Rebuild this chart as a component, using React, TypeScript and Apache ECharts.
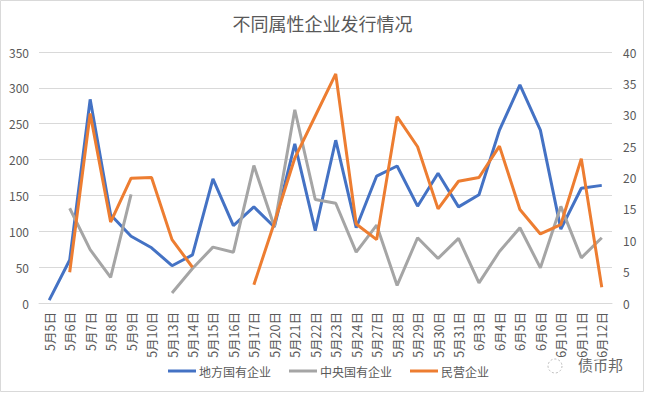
import React, { useEffect, useRef } from "react";
import * as echarts from "echarts";

const categories = [
  "5月5日", "5月6日", "5月7日", "5月8日", "5月9日", "5月10日", "5月13日", "5月14日",
  "5月15日", "5月16日", "5月17日", "5月20日", "5月21日", "5月22日", "5月23日", "5月24日",
  "5月27日", "5月28日", "5月29日", "5月30日", "5月31日", "6月3日", "6月4日", "6月5日",
  "6月6日", "6月10日", "6月11日", "6月12日",
];

const localSOE = [
  4, 60, 284, 123, 93, 77, 52, 67, 173, 108, 134, 106, 222, 101, 227, 105,
  177, 191, 135, 181, 134, 151, 241, 304, 241, 103, 160, 164,
];

const centralSOE = [
  null, 15.1, 8.5, 4.1, 17.3, null, 1.6, 5.5, 8.9, 8.1, 21.9, 12.2, 30.8, 16.5, 15.9, 8.1,
  12.4, 2.8, 10.4, 7.1, 10.3, 3.2, 8.2, 12.0, 5.6, 15.4, 7.2, 10.4,
];

const privateEnt = [
  null, 4.9, 30.2, 12.9, 19.9, 20.0, 10.1, 5.7, null, null, 2.9, 12.8, 23.1, 29.8, 36.5, 12.6,
  10.1, 29.7, 24.9, 15.0, 19.4, 20.0, 25.0, 14.9, 11.0, 12.5, 23.0, 2.5,
];

const seriesNames = ["地方国有企业", "中央国有企业", "民营企业"];
const colors = ["#4472C4", "#A5A5A5", "#ED7D31"];

export default function App() {
  const ref = useRef<HTMLDivElement>(null);
  useEffect(() => {
    document.body.style.margin = "0";
    const chart = echarts.init(ref.current!, null, { renderer: "svg" });
    const labelStyle = { color: "#595959", fontSize: 12, fontFamily: "Noto Sans CJK SC" };
    chart.setOption({
      animation: false,
      backgroundColor: "#fff",
      color: colors,
      title: {
        text: "不同属性企业发行情况",
        left: "center",
        top: 9,
        textStyle: { color: "#595959", fontSize: 18, fontWeight: "normal", fontFamily: "Noto Sans CJK SC" },
      },
      legend: {
        data: seriesNames,
        bottom: 11,
        left: 163,
        itemWidth: 28,
        itemHeight: 3,
        itemGap: 18,
        icon: "rect",
        textStyle: { color: "#595959", fontSize: 12, fontFamily: "Noto Sans CJK SC", padding: [0, 0, 0, -2] },
      },
      grid: { left: 39, right: 33, top: 52, bottom: 90 },
      xAxis: {
        type: "category",
        data: categories,
        boundaryGap: true,
        axisLine: { lineStyle: { color: "#D9D9D9" } },
        axisTick: { show: false },
        axisLabel: { ...labelStyle, fontSize: 12.5, rotate: 90, interval: 0, margin: 9 },
      },
      yAxis: [
        {
          type: "value",
          min: 0,
          max: 350,
          interval: 50,
          axisLine: { show: false },
          axisTick: { show: false },
          splitLine: { lineStyle: { color: "#D9D9D9" } },
          axisLabel: { ...labelStyle, margin: 10 },
        },
        {
          type: "value",
          min: 0,
          max: 40,
          interval: 5,
          axisLine: { show: false },
          axisTick: { show: false },
          splitLine: { show: false },
          axisLabel: { ...labelStyle, margin: 11 },
        },
      ],
      series: [
        {
          name: seriesNames[0], type: "line", yAxisIndex: 0, data: localSOE,
          showSymbol: false, symbol: "none", lineStyle: { width: 3, color: colors[0] },
        },
        {
          name: seriesNames[1], type: "line", yAxisIndex: 1, data: centralSOE,
          showSymbol: false, symbol: "none", connectNulls: false, lineStyle: { width: 3, color: colors[1] },
        },
        {
          name: seriesNames[2], type: "line", yAxisIndex: 1, data: privateEnt,
          showSymbol: false, symbol: "none", connectNulls: false, lineStyle: { width: 3, color: colors[2] },
        },
      ],
      graphic: [
        {
          type: "rect",
          shape: { x: 0.5, y: 0.5, width: 643, height: 391 },
          style: { fill: "none", stroke: "#D9D9D9", lineWidth: 1 },
          silent: true,
        },
        {
          type: "circle",
          shape: { cx: 555, cy: 366, r: 7 },
          style: { fill: "none", stroke: "#BBBBBB", lineWidth: 1, lineDash: [2, 2] },
          silent: true,
        },
        {
          type: "text",
          x: 578,
          y: 357,
          style: { text: "债币邦", fill: "#666666", fontSize: 15, fontFamily: "Noto Sans CJK SC" },
          silent: true,
        },
      ],
    });
    return () => chart.dispose();
  }, []);
  return <div ref={ref} style={{ position: "fixed", left: 0, top: 0, width: 645, height: 393 }} />;
}
